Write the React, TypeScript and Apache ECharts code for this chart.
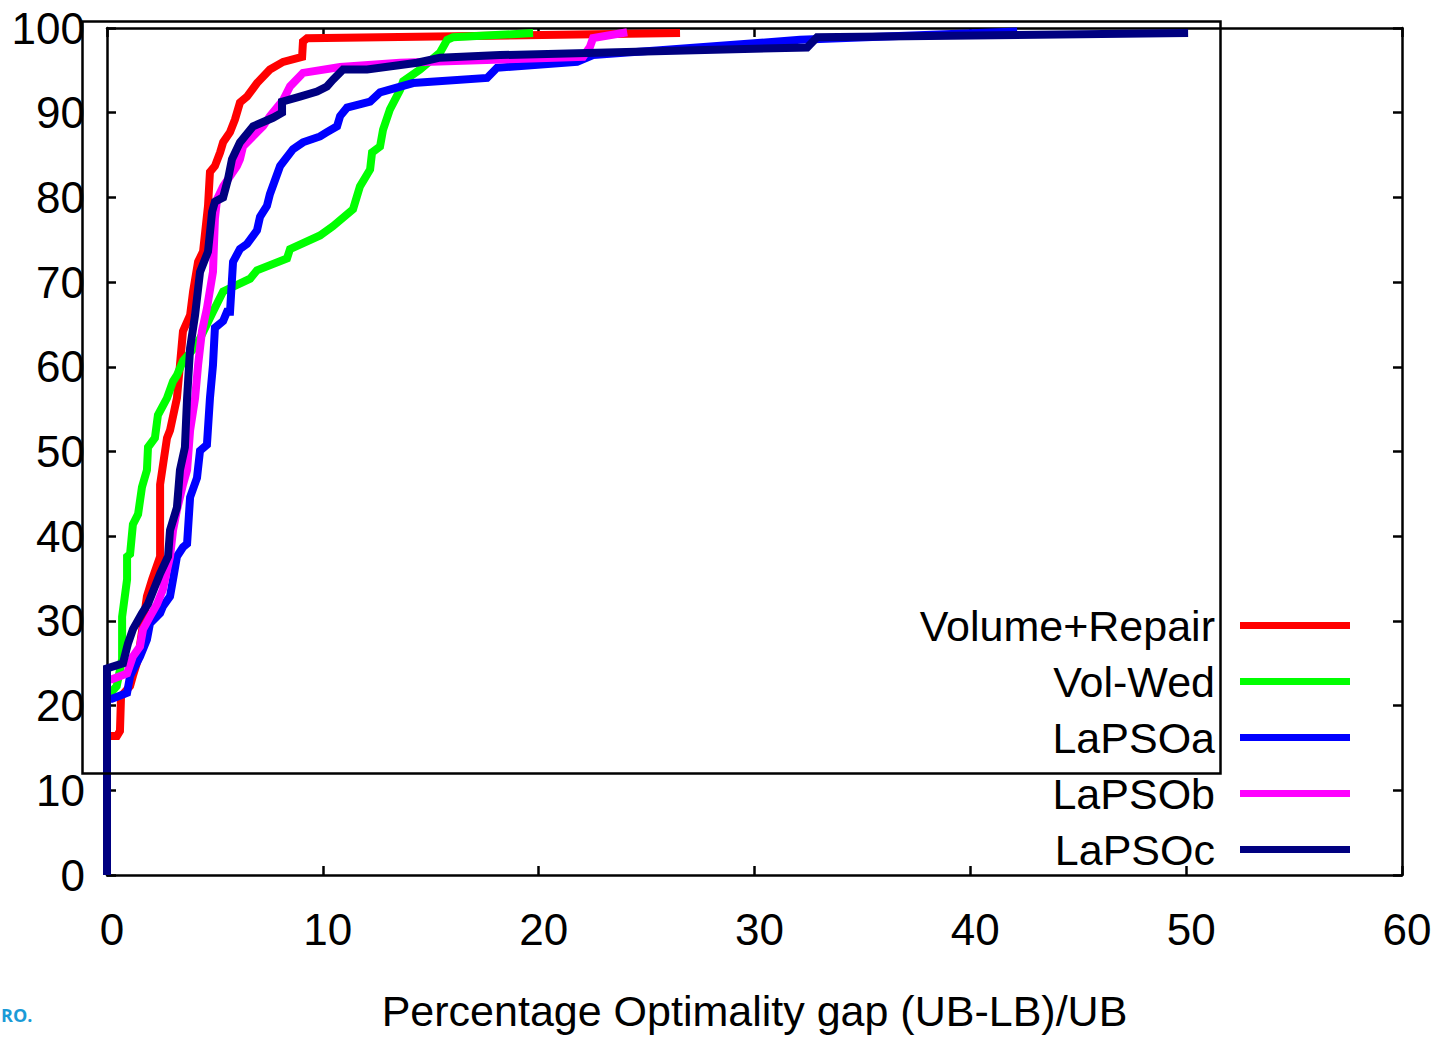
import React, { useEffect, useRef } from "react";
import * as echarts from "echarts";

const seriesNames = ["Volume+Repair", "Vol-Wed", "LaPSOa", "LaPSOb", "LaPSOc"];
const seriesColors = ["#ff0000", "#00ff00", "#0000ff", "#ff00ff", "#000080"];

const xTicks = [0, 10, 20, 30, 40, 50, 60];
const yTicks = [0, 10, 20, 30, 40, 50, 60, 70, 80, 90, 100];

const volumeRepair: number[][] = [
  [0, 0], [0, 16.4], [0.46, 16.4], [0.6, 17], [0.65, 21.1], [1.07, 22.3], [1.2, 23.5],
  [1.44, 25.5], [1.85, 32.9], [2.09, 34.9], [2.46, 37.6], [2.46, 46.1], [2.78, 51.6],
  [2.92, 52.5], [3.24, 56.3], [3.38, 60.2], [3.52, 64.2], [3.85, 66.1], [3.99, 68.9],
  [4.22, 72.4], [4.45, 73.6], [4.68, 79], [4.77, 83], [5.0, 83.7], [5.24, 85.3],
  [5.38, 86.5], [5.7, 87.7], [5.93, 89.2], [6.16, 91.2], [6.49, 91.9], [6.95, 93.5],
  [7.55, 95.1], [8.16, 96.0], [9.04, 96.6], [9.08, 98.4], [9.27, 98.8], [26.55, 99.4],
];

const volWed: number[][] = [
  [0, 0], [0, 21], [0.45, 22.3], [0.7, 25.5], [0.7, 30.5], [0.93, 34.9], [0.93, 37.6],
  [1.07, 37.9], [1.2, 41.4], [1.44, 42.6], [1.62, 45.8], [1.85, 47.8], [1.9, 50.5],
  [2.22, 51.6], [2.36, 54.3], [2.78, 56.3], [3.06, 58.3], [3.24, 59.0], [3.52, 60.7],
  [4.17, 62.6], [4.91, 66.5], [5.38, 68.9], [6.63, 70.4], [6.95, 71.4], [8.34, 72.8],
  [8.48, 73.9], [9.87, 75.5], [10.47, 76.6], [11.4, 78.6], [11.72, 81.3], [12.19, 83.3],
  [12.28, 85.3], [12.65, 86.0], [12.79, 88.0], [13.11, 90.4], [13.58, 92.7], [13.72, 93.7],
  [14.5, 95.1], [15.43, 97.1], [15.76, 98.6], [16.03, 98.9], [19.74, 99.4],
];

const lapsoA: number[][] = [
  [0, 0], [0, 20.8], [0.23, 20.8], [0.93, 21.5], [1.07, 23.5], [1.53, 25.8], [1.85, 27.8],
  [1.99, 29.7], [2.46, 30.9], [2.59, 31.7], [2.92, 32.9], [3.06, 34.9], [3.24, 37.6],
  [3.52, 38.7], [3.71, 39.1], [3.85, 44.6], [4.17, 46.9], [4.31, 50.1], [4.63, 50.8],
  [4.77, 56.3], [4.91, 60.2], [5.0, 64.6], [5.38, 65.4], [5.56, 66.5], [5.7, 66.5],
  [5.84, 72.4], [6.16, 73.9], [6.49, 74.5], [6.95, 76.1], [7.09, 77.7], [7.41, 79.0],
  [7.55, 80.4], [8.02, 83.7], [8.62, 85.7], [9.08, 86.5], [9.87, 87.2], [10.19, 87.7],
  [10.66, 88.4], [10.8, 89.6], [11.12, 90.6], [12.19, 91.3], [12.65, 92.4], [14.18, 93.5],
  [17.61, 94.1], [18.07, 95.3], [21.78, 96.0], [22.52, 96.8], [32.11, 98.6], [42.17, 99.6],
];

const lapsoB: number[][] = [
  [0, 0], [0, 23.1], [0.23, 23.1], [0.93, 23.8], [1.2, 25.8], [1.53, 27.0], [1.67, 29.0],
  [1.99, 30.5], [2.32, 32.0], [2.59, 33.7], [2.78, 36.0], [2.92, 37.6], [3.06, 40.7],
  [3.24, 43.1], [3.52, 46.1], [3.71, 47.8], [3.85, 52.5], [4.08, 56.3], [4.22, 60.2],
  [4.4, 64.2], [4.63, 66.9], [4.91, 71.2], [5.0, 77.5], [5.1, 79.8], [5.38, 81.3],
  [5.7, 82.5], [6.02, 83.7], [6.16, 84.5], [6.3, 86.0], [6.95, 87.7], [7.23, 88.4],
  [7.55, 89.6], [8.16, 91.5], [8.48, 93.1], [9.08, 94.7], [10.8, 95.4], [13.58, 95.9],
  [22.06, 96.6], [22.38, 97.8], [22.52, 98.8], [24.1, 99.5],
];

const lapsoC: number[][] = [
  [0, 0], [0, 24.4], [0.74, 25.0], [0.97, 27.3], [1.2, 29.0], [1.62, 30.9], [1.9, 32.0],
  [2.46, 35.6], [2.83, 37.6], [2.92, 40.7], [3.24, 43.4], [3.38, 47.8], [3.61, 50.5],
  [3.71, 56.3], [3.85, 62.2], [4.08, 66.1], [4.31, 71.2], [4.68, 73.6], [4.87, 78.3],
  [5.0, 79.5], [5.38, 80.0], [5.61, 82.2], [5.79, 84.5], [6.16, 86.5], [6.77, 88.4],
  [7.69, 89.4], [8.11, 90.0], [8.11, 91.3], [8.94, 91.9], [9.73, 92.5], [10.19, 93.1],
  [10.47, 93.9], [10.94, 95.1], [12.05, 95.1], [14.37, 95.9], [15.43, 96.5], [18.21, 96.8],
  [32.44, 97.7], [32.9, 98.9], [50.09, 99.4],
];

const allSeries = [volumeRepair, volWed, lapsoA, lapsoB, lapsoC];
const xAxisTitle = "Percentage Optimality gap (UB-LB)/UB";
const FONT = "Liberation Sans, Arial, sans-serif";

export default function App() {
  const ref = useRef<HTMLDivElement>(null);
  useEffect(() => {
    if (!ref.current) return;
    const chart = echarts.init(ref.current, undefined, { renderer: "svg" });
    const axisLine = { show: true, onZero: false, lineStyle: { color: "#000", width: 2.5 } };
    const tick = { show: true, inside: true, length: 9, lineStyle: { color: "#000", width: 2.5 } };
    chart.setOption({
      animation: false,
      backgroundColor: "#fff",
      textStyle: { fontFamily: FONT },
      grid: { left: 107, right: 37, top: 28, bottom: 157, containLabel: false },
      xAxis: [
        {
          type: "value", min: xTicks[0], max: xTicks[xTicks.length - 1], interval: 10,
          position: "bottom",
          axisLine, axisTick: tick, splitLine: { show: false },
          axisLabel: { fontSize: 44, color: "#000", margin: 32, fontFamily: FONT, padding: [0, 0, 0, 10] },
          name: xAxisTitle, nameLocation: "middle", nameGap: 114,
          nameTextStyle: { fontSize: 43, color: "#000", fontFamily: FONT },
        },
        {
          type: "value", min: 0, max: 60, interval: 10, position: "top",
          axisLine, axisTick: tick, splitLine: { show: false }, axisLabel: { show: false },
        },
      ],
      yAxis: [
        {
          type: "value", min: yTicks[0], max: yTicks[yTicks.length - 1], interval: 10,
          position: "left",
          axisLine, axisTick: tick, splitLine: { show: false },
          axisLabel: { fontSize: 44, color: "#000", margin: 22, fontFamily: FONT },
        },
        {
          type: "value", min: 0, max: 100, interval: 10, position: "right",
          axisLine, axisTick: tick, splitLine: { show: false }, axisLabel: { show: false },
        },
      ],
      legend: {
        orient: "vertical",
        right: 84,
        top: 599,
        align: "right",
        itemWidth: 110,
        itemHeight: 7,
        itemGap: 13,
        icon: "rect",
        textStyle: { fontSize: 43, color: "#000", fontFamily: FONT, lineHeight: 42, padding: [0, 20, 0, 0] },
        data: seriesNames,
      },
      graphic: [
        {
          type: "rect", left: 80, top: 19, z: 100,
          shape: { width: 1138, height: 752 },
          style: { fill: "none", stroke: "#000", lineWidth: 2.5 },
          silent: true,
        },
        {
          type: "text", left: 1, top: 1006, z: 100,
          style: { text: "RO.", fontSize: 18, fontWeight: "bold", fill: "#1a9bd7", fontFamily: "Open Sans, sans-serif" },
        },
      ],
      series: allSeries.map((d, i) => ({
        name: seriesNames[i],
        type: "line",
        data: d,
        xAxisIndex: 0,
        yAxisIndex: 0,
        showSymbol: false,
        symbol: "none",
        color: seriesColors[i],
        lineStyle: { width: 8, color: seriesColors[i], join: "miter" },
        z: 2 + i,
      })),
    });
    return () => chart.dispose();
  }, []);
  return (
    <div
      ref={ref}
      style={{ position: "absolute", left: 0, top: 0, width: 1439, height: 1037 }}
    />
  );
}
